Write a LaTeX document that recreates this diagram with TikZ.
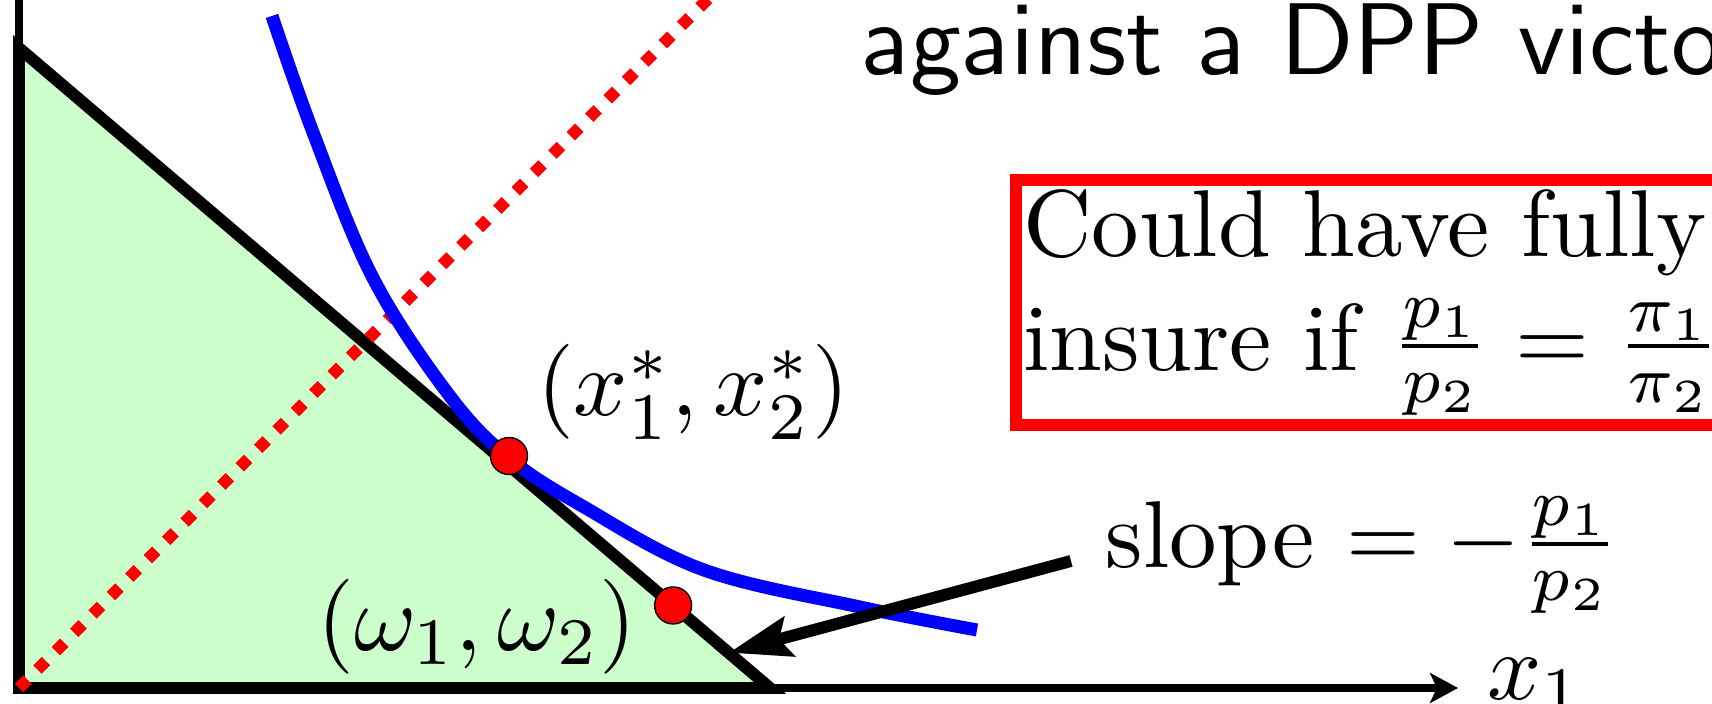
\documentclass[tikz,border=0pt]{standalone}
\usepackage{amsmath}
\usepackage{amssymb}
\usepackage{graphicx}
\usepackage{xcolor}
\usepackage{tikz}
\usetikzlibrary{arrows.meta, shapes, positioning, calc}

\newcommand{\magtext}[1]{\scalebox{2.7}{#1}}
\font\dpptitle=cmss10 at 29pt

\begin{document}
\begin{tikzpicture}[
        x=0.01cm, y=-0.01cm,
        every node/.style={inner sep=0pt},
        budgetline/.style={line width=3.4pt, line join=miter},
        axisline/.style={line width=2.3pt},
        indiff/.style={blue, line width=3.7pt},
        certainty/.style={red, line width=3.4pt, dash pattern=on 0.12cm off 0.14cm},
        pointdot/.style={circle, draw=black, fill=red, line width=0.4pt, minimum size=0.37cm},
        arrow/.style={line width=3.4pt, -{Stealth[length=0.62cm, width=0.4cm, inset=0.1cm]}},
        redbox/.style={draw=red, line width=3.5pt, anchor=north west, inner xsep=0.07cm, inner ysep=0.09cm}
    ]
    \useasboundingbox (0,0) rectangle (1712,704);
    \clip (0,0) rectangle (1712,704);

    \coordinate (origin) at (19,688);
    \coordinate (top) at (19,48);
    \coordinate (corner) at (770,688);
    \coordinate (yend) at (19,-20);
    \coordinate (xend) at (1458,688);
    \coordinate (rayend) at (740,-33);

    \fill [green!20] (top) -- (origin) -- (corner) -- cycle;
    \draw [axisline] (origin) -- (yend);
    \draw [axisline, -{Stealth[length=0.28cm, width=0.3cm, inset=0.07cm]}] (origin) -- (xend);
    \draw [budgetline] (top) -- (origin) -- (corner) -- cycle;
    \draw [certainty] (origin) -- (rayend);
    \draw [indiff] plot [smooth, tension=0.6] coordinates {(272,16) (314,135) (373,278) (449,395) (509,458) (584,507) (704,570) (860,607) (977,630)};

    \node (opt) [pointdot] at (509,456) {};
    \node (endow) [pointdot] at ($(top)!0.871!(corner)$) {};
    \node (optlabel) at (693,392) {\magtext{$(x_1^*, x_2^*)$}};
    \node (endowlabel) at (477,627) {\magtext{$(\omega_1, \omega_2)$}};

    \node (slope) [anchor=base west] at (1105,568) {\magtext{slope $= -\frac{p_1}{p_2}$}};
    \coordinate (tip) at ($(top)!0.945!(corner)$);
    \draw [arrow] ([xshift=-0.34cm, yshift=0.07cm]slope.base west) -- (tip);
    \node (xlabel) [anchor=base west] at (1487,699) {\magtext{$x_1$}};

    \node (insure) [redbox] at (1010,174) {\magtext{\parbox{2.75cm}{Could have fully\\insure if $\frac{p_1}{p_2} = \frac{\pi_1}{\pi_2}$}}};
    \node (title) [anchor=base west] at (861,75) {\dpptitle against a DPP victo};
\end{tikzpicture}
\end{document}
